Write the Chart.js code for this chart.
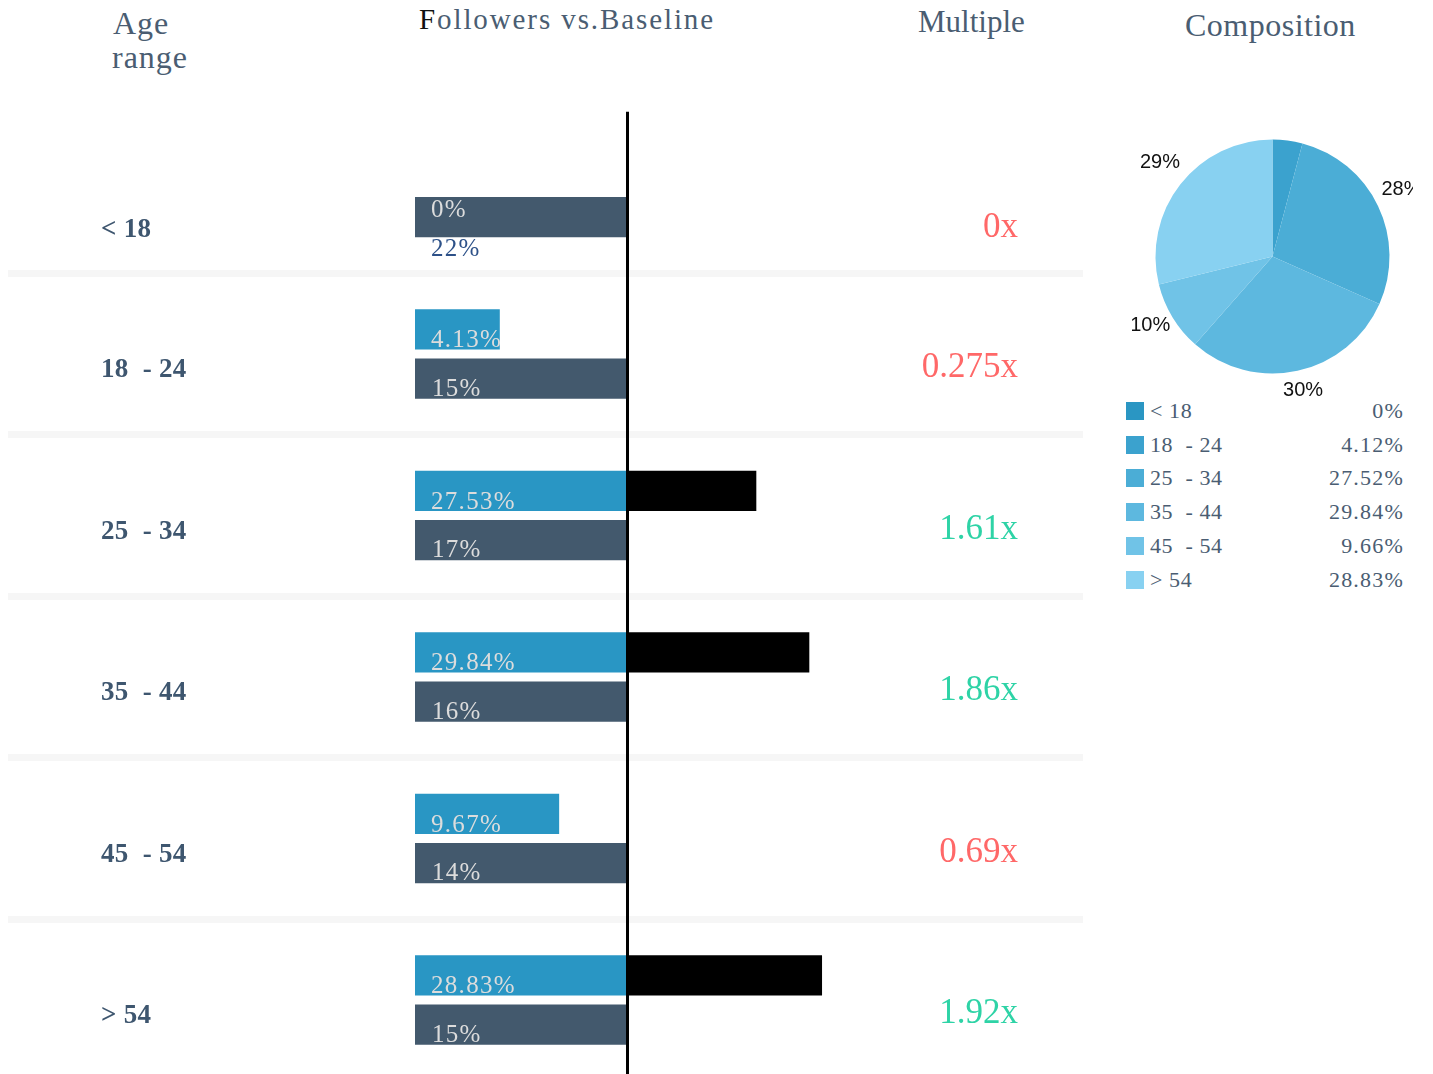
<!DOCTYPE html>
<html>
<head>
<meta charset="utf-8">
<script src="https://cdn.jsdelivr.net/npm/chart.js@4.4.1/dist/chart.umd.min.js"></script>
<style>
  html, body { margin: 0; padding: 0; background: #fff; }
  body { width: 1433px; height: 1074px; overflow: hidden; position: relative;
         font-family: "Liberation Serif", "Times New Roman", serif; }
  .t { position: absolute; white-space: pre; color: #4a5d72; line-height: 1; }
  #bars { position: absolute; left: 0; top: 0; }
  #pie { position: absolute; left: 1132px; top: 116px; }
  .leg { position: absolute; left: 1126px; width: 277px; height: 26px; }
  .leg .sw { position: absolute; left: 0; top: 2px; width: 18px; height: 18px; }
  .leg .nm { position: absolute; left: 24px; top: 0; font-size: 22px; line-height: 1; color: #4a5d72; letter-spacing: 0.6px; white-space: pre; }
  .leg .vl { position: absolute; right: -1px; top: 0; font-size: 22px; line-height: 1; color: #4a5d72; letter-spacing: 1.2px; white-space: pre; }
</style>
</head>
<body>
<div class="t" style="left:113px;top:7px;font-size:32px;letter-spacing:1px;">Age</div>
<div class="t" style="left:112px;top:41px;font-size:32px;letter-spacing:1px;">range</div>
<div class="t" style="left:419px;top:5px;font-size:29px;letter-spacing:1.9px;"><span style="color:#111">F</span>ollowers vs.Baseline</div>
<div class="t" style="left:918px;top:6px;font-size:31px;">Multiple</div>
<div class="t" style="left:1185px;top:9px;font-size:32px;letter-spacing:0.5px;">Composition</div>

<canvas id="bars" width="1100" height="1082"></canvas>
<canvas id="pie" width="281" height="281"></canvas>
<div id="legend"></div>

<script>
// ---- data ----
const categories   = ['< 18', '18  - 24', '25  - 34', '35  - 44', '45  - 54', '> 54'];
const followerPct  = [0, 4.13, 27.53, 29.84, 9.67, 28.83];
const baselinePct  = [22, 15, 17, 16, 14, 15];
const multiples    = [0, 0.275, 1.61, 1.86, 0.69, 1.92];
const multipleLabels = ['0x', '0.275x', '1.61x', '1.86x', '0.69x', '1.92x'];
// drawn bar lengths, in units of the baseline bar width
const followerBar  = [0, 0.40, 1, 1, 0.68, 1];
const overflowBar  = [0, 0, 0.61, 0.86, 0, 0.92];
const baselineBar  = [1, 1, 1, 1, 1, 1];
// composition pie
const compositionPct = [0, 4.12, 27.52, 29.84, 9.66, 28.83];
const compositionColors = ['#2a96c3', '#3ba2ce', '#4badd6', '#5db8df', '#70c3e7', '#88d1f1'];

// ---- bar panel ----
const barText = {
  id: 'barText',
  afterDatasetsDraw(chart) {
    const { ctx, scales: { x, y } } = chart;
    const fMeta = chart.getDatasetMeta(0);
    const bMeta = chart.getDatasetMeta(2);
    const labelX = x.getPixelForValue(0) + 16;
    ctx.save();
    ctx.textBaseline = 'alphabetic';
    categories.forEach((cat, i) => {
      const cy = y.getPixelForValue(i);
      const lift = i === 0 ? 21 : 0;
      // row label
      ctx.letterSpacing = '0.3px';
      ctx.font = 'bold 27px "Liberation Serif"';
      ctx.fillStyle = '#3e566f';
      ctx.textAlign = 'left';
      ctx.fillText(cat, 101, cy + 23 + lift);
      // multiple
      ctx.letterSpacing = '0px';
      ctx.font = '35px "Liberation Serif"';
      ctx.fillStyle = multiples[i] >= 1 ? '#2ed3a6' : '#ff6868';
      ctx.textAlign = 'right';
      ctx.fillText(multipleLabels[i], 1018, cy + 23 + lift);
      // bar labels
      const f = fMeta.data[i].getProps(['y', 'height'], true);
      const b = bMeta.data[i].getProps(['y', 'height'], true);
      ctx.textAlign = 'left';
      ctx.font = '25px "Liberation Serif"';
      ctx.letterSpacing = '1.3px';
      const fTxt = followerPct[i] + '%';
      const bTxt = baselinePct[i] + '%';
      if (followerBar[i] > 0) {
        ctx.fillStyle = '#dcdcdc';
        ctx.fillText(fTxt, labelX, f.y + f.height / 2 - 2);
        ctx.fillText(bTxt, labelX + 1, b.y + b.height / 2 - 3);
      } else {
        ctx.fillStyle = '#dcdcdc';
        ctx.fillText(fTxt, labelX, b.y - b.height / 2 + 20);
        ctx.fillStyle = '#2d5188';
        ctx.fillText(bTxt, labelX, b.y + b.height / 2 + 19);
      }
    });
    ctx.restore();
  }
};

const barOpts = { categoryPercentage: 0.609, barPercentage: 0.816, borderWidth: 0 };
new Chart(document.getElementById('bars'), {
  type: 'bar',
  data: {
    labels: categories,
    datasets: [
      Object.assign({ label: 'Followers', data: followerBar, stack: 'f', backgroundColor: '#2996c4' }, barOpts),
      Object.assign({ label: 'Above baseline', data: overflowBar, stack: 'f', backgroundColor: '#000000' }, barOpts),
      Object.assign({ label: 'Baseline', data: baselineBar, stack: 'b', backgroundColor: '#43596d' }, barOpts)
    ]
  },
  options: {
    indexAxis: 'y',
    responsive: false,
    animation: false,
    events: [],
    layout: { padding: { left: 8, right: 17, top: 111.75, bottom: 1.25 } },
    plugins: { legend: { display: false }, tooltip: { enabled: false } },
    scales: {
      x: {
        type: 'linear', stacked: true,
        min: -407 / 212, max: 668 / 212,
        afterBuildTicks: (s) => { s.ticks = [{ value: 1 }]; },
        ticks: { display: false },
        grid: { color: '#000000', lineWidth: 3, drawTicks: false, z: 1 },
        border: { display: false }
      },
      y: {
        type: 'category', offset: true,
        ticks: { display: false },
        grid: {
          offset: true, drawTicks: false, lineWidth: 7,
          color: (c) => (c.index === 0 || c.index === categories.length) ? 'rgba(0,0,0,0)' : '#f6f6f6'
        },
        border: { display: false }
      }
    }
  },
  plugins: [barText]
});

// ---- composition pie ----
const pieText = {
  id: 'pieText',
  afterDatasetsDraw(chart) {
    const { ctx } = chart;
    const meta = chart.getDatasetMeta(0);
    ctx.save();
    ctx.font = '20px "Liberation Sans", Arial, sans-serif';
    ctx.fillStyle = '#111';
    ctx.textAlign = 'center';
    ctx.textBaseline = 'alphabetic';
    meta.data.forEach((arc, i) => {
      const v = compositionPct[i];
      if (v < 5) return;
      const p = arc.getProps(['x', 'y', 'startAngle', 'endAngle', 'outerRadius'], true);
      const a = (p.startAngle + p.endAngle) / 2;
      const r = p.outerRadius + 26;
      ctx.fillText(Math.round(v) + '%', p.x + Math.cos(a) * r, p.y + Math.sin(a) * r);
    });
    ctx.restore();
  }
};

new Chart(document.getElementById('pie'), {
  type: 'pie',
  data: {
    labels: categories,
    datasets: [{ data: compositionPct, backgroundColor: compositionColors, borderWidth: 0 }]
  },
  options: {
    responsive: false,
    animation: false,
    events: [],
    radius: 117,
    layout: { padding: 0 },
    plugins: { legend: { display: false }, tooltip: { enabled: false } }
  },
  plugins: [pieText]
});

// ---- legend ----
const legend = document.getElementById('legend');
categories.forEach((cat, i) => {
  const row = document.createElement('div');
  row.className = 'leg';
  row.style.top = (400 + 33.7 * i) + 'px';
  row.innerHTML = '<div class="sw" style="background:' + compositionColors[i] + '"></div>' +
    '<div class="nm"></div><div class="vl"></div>';
  row.querySelector('.nm').textContent = cat;
  row.querySelector('.vl').textContent = compositionPct[i] + '%';
  legend.appendChild(row);
});
</script>
</body>
</html>
